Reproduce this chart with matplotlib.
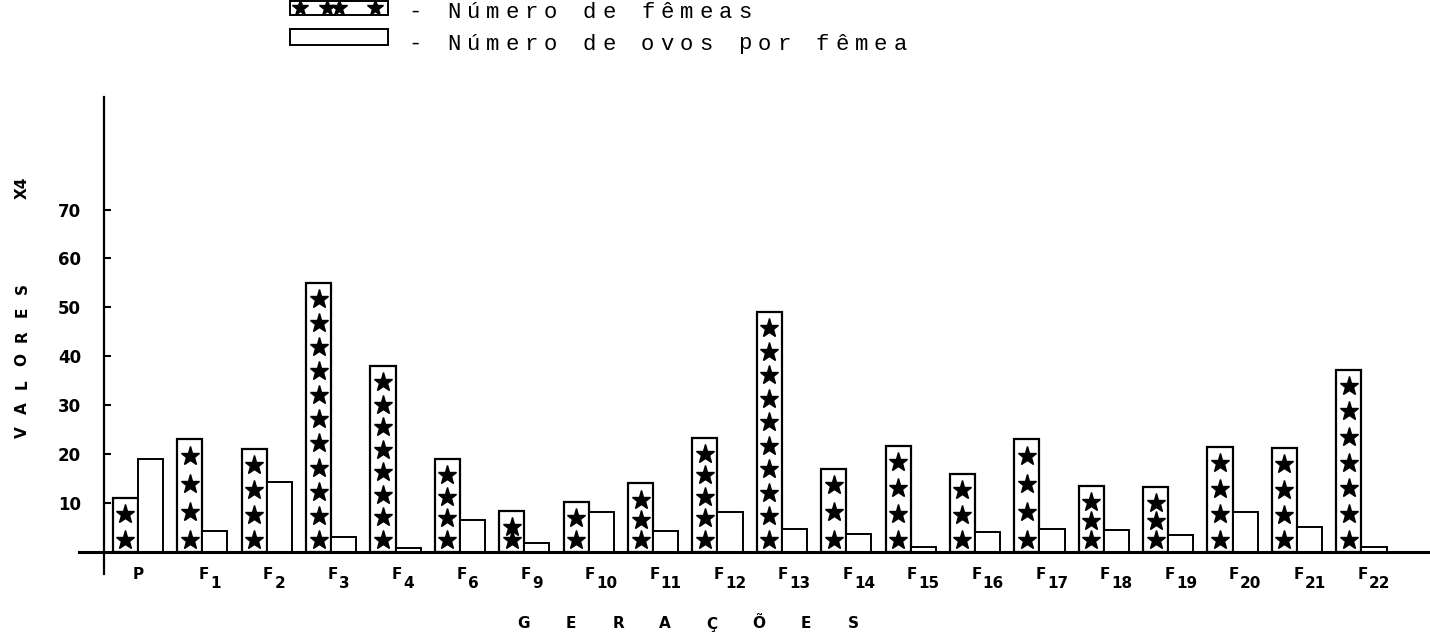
import numpy as np
import matplotlib
matplotlib.use('Agg')
import matplotlib.pyplot as plt
from matplotlib.patches import Rectangle

# data (values x4)
geracoes = ['P', '1', '2', '3', '4', '6', '9', '10', '11', '12', '13',
            '14', '15', '16', '17', '18', '19', '20', '21', '22']
femeas = [11, 23, 21, 55, 38, 19, 8.4, 10.2, 14, 23.4, 49,
          17, 21.6, 16, 23, 13.5, 13.3, 21.4, 21.2, 37.3]
ovos = [19, 4.3, 14.3, 3.0, 0.9, 6.6, 1.8, 8.2, 4.2, 8.2, 4.6,
        3.7, 1.1, 4.1, 4.6, 4.5, 3.4, 8.1, 5.2, 1.1]
estrelas = [2, 4, 4, 11, 8, 4, 2, 2, 3, 5, 10, 3, 4, 3, 4, 3, 3, 4, 4, 7]
yticks = [10, 20, 30, 40, 50, 60, 70]

W, H = 1430, 638
fig = plt.figure(figsize=(W / 100, H / 100), dpi=100)
ax = fig.add_axes([79 / W, (H - 574) / H, (1429 - 79) / W, (574 - 97) / H])

x = np.arange(len(geracoes))
bw = 0.39
ax.bar(x - bw / 2, femeas, bw, facecolor='white', edgecolor='black', lw=1.6, zorder=2)
ax.bar(x + bw / 2, ovos, bw, facecolor='white', edgecolor='black', lw=1.4, zorder=2)

for xi, h, n in zip(x, femeas, estrelas):
    ys = np.linspace(2.5, h - 3.3, n)
    ax.plot(np.full(n, xi - bw / 2), ys, ls='none', marker='*', ms=14,
            color='black', zorder=3)

ax.set_xlim(-0.916, 20.05)
ax.set_ylim(-4.5, 93)
ax.spines['top'].set_visible(False)
ax.spines['right'].set_visible(False)
ax.spines['bottom'].set_position(('data', 0))
ax.spines['bottom'].set_linewidth(2.2)
ax.spines['left'].set_position(('data', -0.52))
ax.spines['left'].set_linewidth(1.6)
ax.set_xticks([])
ax.set_yticks(yticks)
ax.tick_params(axis='y', direction='in', length=5, width=1.5, pad=17)
for lab in ax.get_yticklabels():
    lab.set_fontweight('bold')
    lab.set_fontsize(12)

# x labels: F with subscript
for xi, g in zip(x, geracoes):
    if g == 'P':
        ax.annotate('P', (xi, 0), xytext=(0, -16), textcoords='offset points',
                    ha='center', va='center', fontsize=11, fontweight='bold')
    else:
        ax.annotate('F', (xi, 0), xytext=(1, -16), textcoords='offset points',
                    ha='center', va='center', fontsize=11, fontweight='bold')
        ax.annotate(g, (xi, 0), xytext=(5.5, -23), textcoords='offset points',
                    ha='left', va='center', fontsize=11, fontweight='bold')

# overlay in pixel units for legend and spaced axis titles
ov = fig.add_axes([0, 0, 1, 1])
ov.set_xlim(0, W)
ov.set_ylim(H, 0)
ov.axis('off')
ov.patch.set_alpha(0)

ov.add_patch(Rectangle((290, 1), 98, 14, fill=False, ec='black', lw=1.4))
ov.plot([300, 327, 339, 375], [8, 8, 8, 8], ls='none', marker='*', ms=12, color='black')
ov.add_patch(Rectangle((290, 29), 98, 16, fill=False, ec='black', lw=1.4))

for texto, yc in [('- Número de fêmeas', 12), ('- Número de ovos por fêmea', 44)]:
    for i, ch in enumerate(texto):
        ov.text(415 + i * 19.4, yc, ch, ha='center', va='center',
                fontsize=16, family='Liberation Mono')

for i, ch in enumerate('GERAÇÕES'):
    ov.text(524 + i * 47, 624, ch, ha='center', va='center',
            fontsize=11, fontweight='bold')

for i, ch in enumerate('VALORES'):
    ov.text(22, 432 - i * 24, ch, ha='center', va='center', rotation=90,
            fontsize=11, fontweight='bold')
ov.text(22, 188, 'X4', ha='center', va='center', rotation=90,
        fontsize=11, fontweight='bold')

fig.savefig('out.png', dpi=100)
